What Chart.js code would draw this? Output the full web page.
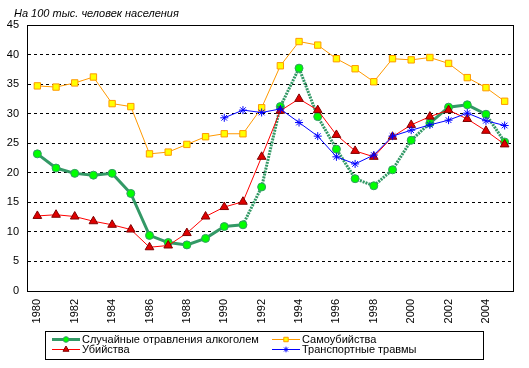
<!DOCTYPE html>
<html>
<head>
<meta charset="utf-8">
<script src="https://cdn.jsdelivr.net/npm/chart.js@4/dist/chart.umd.min.js"></script>
<style>
  body { margin: 0; background: #fff; }
</style>
</head>
<body>
<canvas id="deaths-chart" width="529" height="368"></canvas>
<script>
// years on the x axis
const years = ['1980', '1981', '1982', '1983', '1984', '1985', '1986', '1987', '1988', '1989',
               '1990', '1991', '1992', '1993', '1994', '1995', '1996', '1997', '1998', '1999',
               '2000', '2001', '2002', '2003', '2004', '2005'];

// per 100 thousand people
const alcohol = [23.2, 20.8, 19.9, 19.6, 19.9, 16.5, 9.4, 8.2, 7.8, 8.9,
                 10.9, 11.2, 17.6, 31.2, 37.7, 29.5, 24.0, 19.0, 17.8, 20.5,
                 25.5, 28.4, 31.1, 31.5, 29.9, 25.2];
const murders = [12.7, 12.9, 12.6, 11.8, 11.2, 10.4, 7.4, 7.7, 9.8, 12.6,
                 14.2, 15.1, 22.7, 30.5, 32.5, 30.6, 26.4, 23.7, 22.7, 26.1,
                 28.1, 29.5, 30.6, 29.1, 27.1, 24.8];
const suicides = [34.7, 34.5, 35.2, 36.2, 31.7, 31.2, 23.2, 23.5, 24.8, 26.1,
                  26.6, 26.6, 31.0, 38.1, 42.2, 41.6, 39.3, 37.6, 35.4, 39.3,
                  39.1, 39.5, 38.5, 36.1, 34.4, 32.1];
const transport = [null, null, null, null, null, null, null, null, null, null,
                   29.3, 30.6, 30.2, 30.8, 28.5, 26.2, 22.7, 21.5, 23.0, 26.2,
                   27.2, 28.1, 28.9, 30.1, 28.8, 28.0];

const yTicks = [0, 5, 10, 15, 20, 25, 30, 35, 40, 45];

const FONT = '"Liberation Sans", Arial, sans-serif';

// green line is dotted between 1991 and 2001 and for the last step
function alcoholDash(ctx) {
    const i = ctx.p0DataIndex;
    if ((i >= 11 && i < 21) || i >= 24) return [2, 1];
    return undefined;
}

const data = {
    labels: years,
    datasets: [
        {
            label: 'Транспортные травмы',
            data: transport,
            borderColor: '#0000FF',
            backgroundColor: '#0000FF',
            borderWidth: 1,
            pointStyle: 'star',
            pointRadius: 4,
            pointBorderWidth: 1,
            order: 0
        },
        {
            label: 'Убийства',
            data: murders,
            borderColor: '#FF0000',
            backgroundColor: '#E00000',
            pointBorderColor: '#800000',
            borderWidth: 1,
            pointStyle: 'triangle',
            pointRadius: 5,
            pointBorderWidth: 1,
            order: 1
        },
        {
            label: 'Случайные отравления алкоголем',
            data: alcohol,
            borderColor: '#339966',
            backgroundColor: '#00FF00',
            pointBorderColor: '#339966',
            borderWidth: 3,
            pointStyle: 'circle',
            pointRadius: 4,
            pointBorderWidth: 1,
            segment: { borderDash: alcoholDash },
            order: 2
        },
        {
            label: 'Самоубийства',
            data: suicides,
            borderColor: '#FF9900',
            backgroundColor: '#FFFF00',
            pointBorderColor: '#FF9900',
            borderWidth: 1,
            pointStyle: 'rect',
            pointRadius: 4.5,
            pointBorderWidth: 1,
            order: 3
        }
    ]
};

// frame, caption and boxed legend
const decorations = {
    id: 'decorations',
    beforeDatasetsDraw(chart) {
        const ctx = chart.ctx;
        const a = chart.chartArea;
        ctx.save();
        ctx.strokeStyle = '#000';
        ctx.lineWidth = 1;
        ctx.strokeRect(Math.round(a.left) - 0.5, Math.round(a.top) + 0.5,
                       Math.round(a.right - a.left), Math.round(a.bottom - a.top));
        ctx.restore();
    },
    afterDraw(chart) {
        const ctx = chart.ctx;
        ctx.save();
        ctx.fillStyle = '#000';
        ctx.font = 'italic 11px ' + FONT;
        ctx.textBaseline = 'alphabetic';
        ctx.fillText('На 100 тыс. человек населения', 14, 17);

        ctx.strokeStyle = '#000';
        ctx.lineWidth = 1;
        ctx.strokeRect(45.5, 331.5, 438, 28);

        // column-wise layout like the original
        const slots = [
            { label: 'Случайные отравления алкоголем', x: 52, y: 339 },
            { label: 'Убийства', x: 52, y: 349 },
            { label: 'Самоубийства', x: 272, y: 339 },
            { label: 'Транспортные травмы', x: 272, y: 349 }
        ];
        slots.forEach(function (s) {
            const ds = chart.data.datasets.find(d => d.label === s.label);
            ctx.strokeStyle = ds.borderColor;
            ctx.lineWidth = ds.borderWidth;
            ctx.setLineDash([]);
            ctx.beginPath();
            ctx.moveTo(s.x, s.y + 0.5);
            ctx.lineTo(s.x + 28, s.y + 0.5);
            ctx.stroke();
            ctx.fillStyle = ds.backgroundColor;
            ctx.strokeStyle = ds.pointBorderColor || ds.borderColor;
            ctx.lineWidth = 1;
            Chart.helpers.drawPoint(ctx, {
                pointStyle: ds.pointStyle,
                radius: ds.pointRadius * 0.7,
                rotation: 0,
                borderWidth: 1
            }, s.x + 14, s.y + 0.5);
            ctx.fillStyle = '#000';
            ctx.font = '11px ' + FONT;
            ctx.textBaseline = 'middle';
            ctx.fillText(s.label, s.x + 30, s.y + 1);
        });
        ctx.restore();
    }
};

const config = {
    type: 'line',
    data: data,
    plugins: [decorations],
    options: {
        responsive: false,
        animation: false,
        layout: {
            padding: { left: 0, top: 25, right: 15, bottom: 0 }
        },
        scales: {
            x: {
                type: 'category',
                offset: true,
                grid: { display: false, drawTicks: false },
                border: { display: false },
                ticks: {
                    autoSkip: false,
                    maxRotation: 90,
                    minRotation: 90,
                    padding: 8,
                    color: '#000',
                    font: { family: FONT, size: 11 },
                    callback: function (v, i) { return i % 2 === 0 ? years[i] : ''; }
                },
                afterFit: function (s) { s.height = 77; }
            },
            y: {
                min: 0,
                max: 45,
                afterBuildTicks: function (s) { s.ticks = yTicks.map(v => ({ value: v })); },
                grid: {
                    drawTicks: false,
                    color: function (c) {
                        return (c.tick.value === 0 || c.tick.value === 45) ? 'rgba(0,0,0,0)' : '#000';
                    },
                    lineWidth: 1
                },
                border: { display: false, dash: [3, 3] },
                ticks: {
                    padding: 9,
                    color: '#000',
                    font: { family: FONT, size: 11 }
                },
                afterFit: function (s) { s.width = 28; }
            }
        },
        plugins: {
            legend: { display: false },
            tooltip: { enabled: false }
        }
    }
};

new Chart(document.getElementById('deaths-chart').getContext('2d'), config);
</script>
</body>
</html>
